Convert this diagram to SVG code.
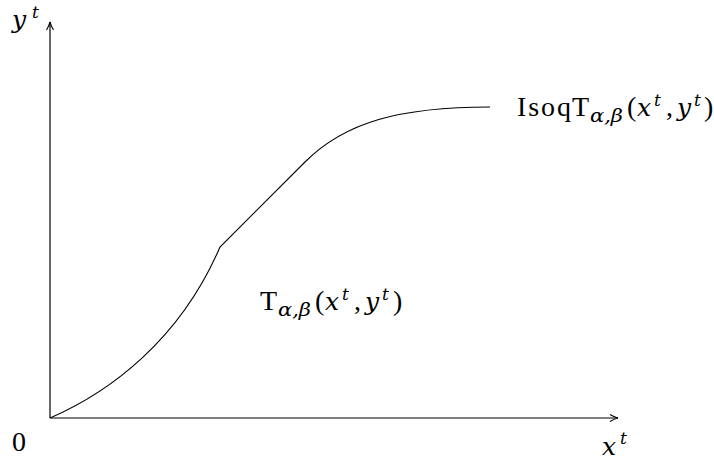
<svg xmlns="http://www.w3.org/2000/svg" width="714" height="461" viewBox="0 0 714 461">
<style>
.ax{stroke:#000;stroke-width:1.2;fill:none}
.cv{stroke:#000;stroke-width:1.1;fill:none}
text{font-family:"Liberation Serif","DejaVu Serif",serif;font-size:28px;fill:#000}
.i{font-family:"DejaVu Serif","Liberation Serif",serif;font-style:italic;font-size:25px}
.s{font-size:17px}
.ab{font-size:19px}
</style>
<defs>
<marker id="ar" viewBox="0 0 10 10" refX="9" refY="5" markerWidth="10" markerHeight="10" markerUnits="userSpaceOnUse" orient="auto">
<path d="M1,1.5 Q5,4 9,5 Q5,6 1,8.5" fill="none" stroke="#000" stroke-width="1.1"/>
</marker>
</defs>
<g id="connectors">
<line class="ax" x1="50" y1="418" x2="50" y2="22" marker-end="url(#ar)"/>
<line class="ax" x1="50" y1="418" x2="618" y2="418" marker-end="url(#ar)"/>
<path id="curve" class="cv" d="M50,418 C110,392 180,340 220,247 L305,162 C345,122 400,107 490,107"/>
</g>
<g id="label-y"><text x="12" y="28" class="i">y</text><text x="32" y="18" class="i s">t</text></g>
<g id="label-0"><text x="12" y="451">0</text></g>
<g id="label-x"><text x="602" y="455" class="i">x</text><text x="620" y="444" class="i s">t</text></g>
<g id="label-isoq">
<text x="517" y="116" textLength="54" lengthAdjust="spacing">Isoq</text>
<text x="572" y="116">T</text>
<text x="590" y="122" class="i ab" textLength="33" lengthAdjust="spacingAndGlyphs">α,β</text>
<text x="627" y="116">(</text>
<text x="637" y="116" class="i">x</text>
<text x="654" y="106" class="i s">t</text>
<text x="666" y="116">,</text>
<text x="677" y="116" class="i">y</text>
<text x="694" y="106" class="i s">t</text>
<text x="704" y="116">)</text>
</g>
<g id="label-t">
<text x="260" y="310">T</text>
<text x="278" y="316" class="i ab" textLength="33" lengthAdjust="spacingAndGlyphs">α,β</text>
<text x="315" y="310">(</text>
<text x="325" y="310" class="i">x</text>
<text x="342" y="300" class="i s">t</text>
<text x="354" y="310">,</text>
<text x="365" y="310" class="i">y</text>
<text x="382" y="300" class="i s">t</text>
<text x="393" y="310">)</text>
</g>
</svg>
